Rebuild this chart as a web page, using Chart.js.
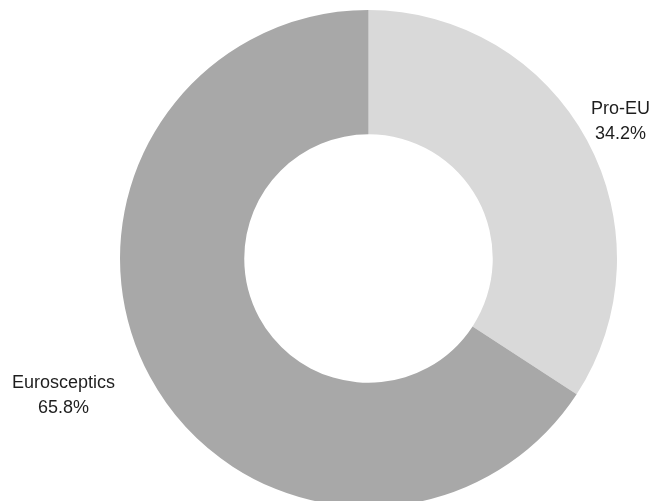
<!DOCTYPE html>
<html>
<head>
<meta charset="utf-8">
<script src="https://cdn.jsdelivr.net/npm/chart.js@4"></script>
<style>
  html, body { margin: 0; padding: 0; background: #fff; overflow: hidden; }
  #wrap { width: 653px; height: 517px; }
</style>
</head>
<body>
<div id="wrap"><canvas id="chart" width="653" height="517"></canvas></div>
<script>
const labels = ['Pro-EU', 'Eurosceptics'];
const shares = [34.2, 65.8];
const colors = ['#d9d9d9', '#a8a8a8'];

// draw "name / percent" outside each slice, clamped to the canvas
const outsideLabels = {
    id: 'outsideLabels',
    afterDatasetsDraw(chart) {
        const ctx = chart.ctx;
        const meta = chart.getDatasetMeta(0);
        ctx.save();
        ctx.font = '18px "Liberation Sans", Arial, sans-serif';
        ctx.fillStyle = '#1e1e1e';
        ctx.textAlign = 'center';
        ctx.textBaseline = 'middle';
        meta.data.forEach((arc, i) => {
            const mid = (arc.startAngle + arc.endAngle) / 2;
            const d = arc.outerRadius * 1.16;
            const ax = arc.x + Math.cos(mid) * d;
            const ay = arc.y + Math.sin(mid) * d;
            const lines = [labels[i], shares[i].toFixed(1) + '%'];
            const w = Math.max(...lines.map(t => ctx.measureText(t).width));
            let cx = Math.cos(mid) >= 0 ? ax + w / 2 : ax - w / 2;
            cx = Math.min(Math.max(cx, w / 2 + 3), chart.width - w / 2 - 3);
            ctx.fillText(lines[0], cx, ay - 12.5);
            ctx.fillText(lines[1], cx, ay + 12.5);
        });
        ctx.restore();
    }
};

new Chart(document.getElementById('chart'), {
    type: 'doughnut',
    data: {
        labels: labels,
        datasets: [{
            data: shares,
            backgroundColor: colors,
            borderWidth: 0,
        }],
    },
    options: {
        responsive: false,
        animation: false,
        cutout: '50%',
        layout: { padding: { left: 120, right: 36, top: 10, bottom: 10 } },
        plugins: {
            legend: { display: false },
            tooltip: { enabled: false },
        },
    },
    plugins: [outsideLabels],
});
</script>
</body>
</html>
